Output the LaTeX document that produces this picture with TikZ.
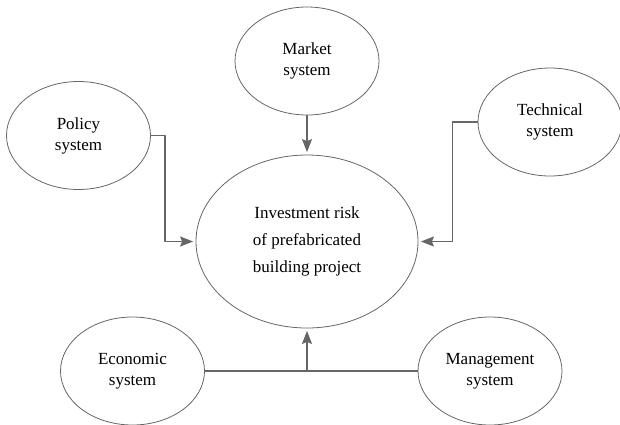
\documentclass[tikz,border=0pt]{standalone}
\usepackage{fontspec}
\setmainfont{Liberation Serif}
\usetikzlibrary{shapes.geometric, arrows.meta}
\definecolor{linegray}{HTML}{666666}
\begin{document}
\begin{tikzpicture}[x=1pt, y=-1pt, line cap=round, line join=round,
  >={Stealth[length=13pt, width=10pt, inset=2pt]},
  sys/.style={ellipse, draw=linegray, line width=0.8pt, inner sep=0pt,
    minimum width=144pt, minimum height=108pt, align=center,
    font=\fontsize{17}{21}\selectfont},
  risk/.style={sys, minimum width=222pt, minimum height=173pt,
    font=\fontsize{17}{27}\selectfont},
  link/.style={draw=linegray, line width=1.2pt}]
\useasboundingbox (0,0) rectangle (620,424);

\node[risk] (risk) at (307,241.5) {Investment risk\\of prefabricated\\building project};
\node[sys] (market) at (307,61) {Market\\system};
\node[sys] (policy) at (78.5,135.5) {Policy\\system};
\node[sys] (tech) at (550,122) {Technical\\system};
\node[sys] (econ) at (132.5,371) {Economic\\system};
\node[sys] (manage) at (490,371) {Management\\system};

\coordinate (join) at (307,371);
\draw[link,->,shorten >=2.5pt] (market)--(risk);
\draw[link,->,shorten >=2.5pt] (policy.east)-|(165,241.5)--(risk.west);
\draw[link,->,shorten >=2.5pt] (tech.west)-|(452.5,241.5)--(risk.east);
\draw[link] (econ.east)--(manage.west);
\draw[link,->,shorten >=2.5pt] (join)--(risk.south);
\end{tikzpicture}
\end{document}
